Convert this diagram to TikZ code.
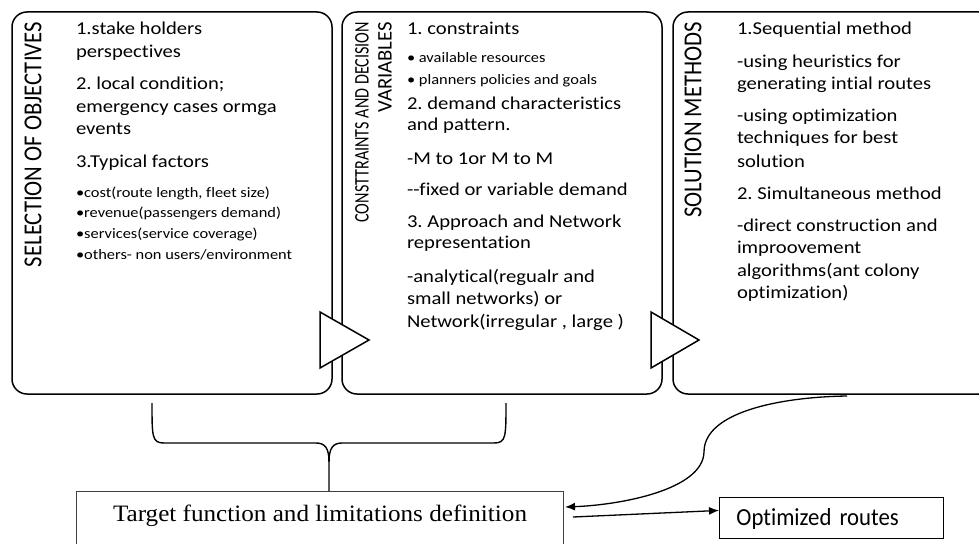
\documentclass[tikz,border=0pt]{standalone}
\usepackage{fontspec}
\usetikzlibrary{calc,arrows.meta}
\newfontfamily\mainf[FakeStretch=1.14,Ligatures=NoCommon]{Carlito}
\newfontfamily\titlef[FakeStretch=0.877,Ligatures=NoCommon]{Carlito}
\newfontfamily\titlefA[FakeStretch=0.78,Ligatures=NoCommon]{Carlito}
\newfontfamily\titlefB[FakeStretch=1.0,Ligatures=NoCommon]{Carlito}
\newfontfamily\optf[FakeStretch=0.93,Ligatures=NoCommon]{Carlito}
\newfontfamily\serf[FakeStretch=1.07]{Liberation Serif}
\begin{document}
\frenchspacing
\begin{tikzpicture}[x=1pt,y=-1pt,
  bigbox/.style={draw, line width=1.5pt, rounded corners=15pt, minimum width=320pt, minimum height=382pt, anchor=north west, inner sep=0pt, outer sep=0pt},
  tri/.style={draw, line width=1.5pt, fill=white, line join=miter},
  txt/.style={anchor=base west, inner sep=0pt, outer sep=0pt, font=\mainf\fontsize{18.1}{22}\selectfont},
  btxt/.style={anchor=base west, inner sep=0pt, outer sep=0pt, font=\mainf\fontsize{14.4}{18}\selectfont},
  ttl/.style={rotate=90, anchor=east, inner sep=0pt, outer sep=0pt},
  arr/.style={line width=1.3pt, -{Latex[length=10pt,width=8pt]}},
  brace/.style={line width=1.4pt}]
\fill[white] (0,0) rectangle (979,543);
\clip (0,0) rectangle (979,543);
% boxes
\node[bigbox] (b1) at (12,12) {};
\node[bigbox] (b2) at (342,12) {};
\node[bigbox, minimum width=340pt] (b3) at (673,12) {};
% triangles
\draw[tri] (320,312) -- (369,340) -- (320,368) -- cycle;
\draw[tri] (651,312) -- (699,340) -- (651,368) -- cycle;
% titles
\node[ttl, font=\titlef\fontsize{25.9}{28}\selectfont] (t1) at (33,22) {SELECTION OF OBJECTIVES};
\node[ttl, font=\titlefA\fontsize{20.7}{24}\selectfont] (t2a) at (362,22) {CONSTTRAINTS AND DECISION};
\node[ttl, font=\titlefB\fontsize{20.7}{24}\selectfont] (t2b) at (385,22) {VARIABLES};
\node[ttl, font=\titlef\fontsize{25.9}{28}\selectfont] (t3) at (693,22) {SOLUTION METHODS};
% box 1 text
\foreach \yy/\tt [count=\i] in {35/{1.stake holders}, 57/{perspectives}, 89/{2. local condition;}, 112/{emergency cases ormga}, 134/{events}, 167/{3.Typical factors}}
  \node[txt] (a\i) at (76,\yy) {\tt};
\foreach \yy/\tt [count=\i] in {197/{•cost(route length, fleet size)}, 217/{•revenue(passengers demand)}, 238/{•services(service coverage)}, 259/{•others- non users/environment}}
  \node[btxt] (ab\i) at (76,\yy) {\tt};
% box 2 text
\foreach \yy/\tt [count=\i] in {35/{1. constraints}, 109/{2. demand characteristics}, 130/{and pattern.}, 164/{-M to 1or M to M}, 195/{-\kern0pt-fixed or variable demand}, 227/{3. Approach and Network}, 248/{representation}, 282/{-analytical(regualr and}, 304/{small networks) or}, 327/{Network(irregular , large )}}
  \node[txt] (c\i) at (407,\yy) {\tt};
\foreach \yy/\tt [count=\i] in {63/{• available resources}, 84/{• planners policies and goals}}
  \node[btxt] (cb\i) at (407,\yy) {\tt};
% box 3 text
\foreach \yy/\tt [count=\i] in {35/{1.Sequential method}, 67/{-using heuristics for}, 89/{generating intial routes}, 121/{-using optimization}, 143/{techniques for best}, 167/{solution}, 199/{2. Simultaneous method}, 231/{-direct construction and}, 253/{improovement}, 276/{algorithms(ant colony}, 298/{optimization)}}
  \node[txt] (d\i) at (737,\yy) {\tt};
% target and result boxes
\node[draw=black!75, line width=1pt, anchor=north west, minimum width=487pt, inner xsep=0pt, inner ysep=13pt, text height=17pt, text depth=14pt, font=\serf\fontsize{23.5}{26}\selectfont] (tbox) at (76,491) {Target function and limitations definition};
\node[draw, line width=0.9pt, anchor=north west, minimum width=224pt, minimum height=41pt, inner xsep=17pt, text width=190pt, align=left, text height=16pt, text depth=0pt, font=\optf\fontsize{24.5}{26}\selectfont] (opt) at (719,497) {Optimized routes};
% brace
\coordinate (bl) at ($(b1.south)+(-20,9)$);
\coordinate (br) at ($(b2.south)+(4,9)$);
\coordinate (btip) at ($(tbox.north west)+(253,0)$);
\draw[brace] (bl) .. controls +(0,34) and +(-12,0) .. (164,443) -- (316,443) .. controls +(9,0) and +(0,-14) .. (329,462) -- (btip);
\draw[brace] (br) .. controls +(0,34) and +(12,0) .. (494,443) -- (342,443) .. controls +(-9,0) and +(0,-14) .. (329,462);
% connectors
\coordinate (cstart) at ($(b3.south west)+(174,2)$);
\draw[arr] (cstart) .. controls (780,397) and (704,412) .. (704,452) .. controls (703,490) and (620,505) .. ($(tbox.north east)+(1,16)$);
\draw[arr] ($(tbox.north east)+(9,26)$) -- ($(opt.west)+(0,-7.5)$);
\end{tikzpicture}
\end{document}
